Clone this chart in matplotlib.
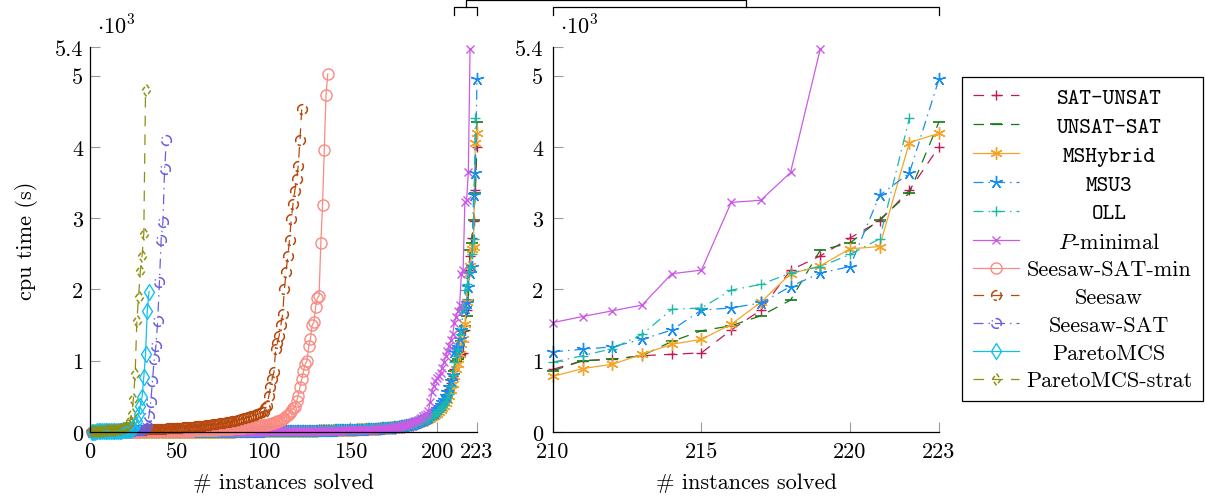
import numpy as np
import matplotlib
matplotlib.use('Agg')
import matplotlib.pyplot as plt
from matplotlib.path import Path
from matplotlib.transforms import Affine2D
from matplotlib.lines import Line2D

plt.rcParams['font.family'] = ['cmr10', 'DejaVu Serif']
plt.rcParams['mathtext.fontset'] = 'cm'
plt.rcParams['axes.formatter.use_mathtext'] = True
plt.rcParams['font.size'] = 16

# ---------------- data (cpu time in seconds, sorted, one value per solved instance)
sat_unsat = [0,0,0,0,0,0,0,0,0,0, 0,0,0,0,0,1,1,1,1,1, 1,1,1,1,1,1,1,1,1,1,
             1,1,1,1,1,1,1,1,2,2, 2,2,2,2,2,2,2,2,2,2, 2,2,3,3,3,3,3,3,3,3,
             3,3,3,3,3,3,4,4,4,4, 4,4,4,4,4,4,5,5,5,5, 5,5,5,5,5,6,6,6,6,6,
             6,6,6,6,7,7,7,7,7,7, 8,8,8,8,8,8,9,9,9,9, 9,10,10,10,10,11,11,11,11,12,
             12,12,12,13,13,13,14,14,14,15, 15,15,16,16,16,17,17,17,18,18, 19,19,20,20,21,21,22,22,23,23,
             24,24,25,25,26,26,27,27,28,29, 29,30,31,32,33,34,35,36,37,38, 39,40,42,44,46,48,50,53,56,59,
             62,66,70,75,80,86,93,100,110,120, 130,142,155,168,180,190,200,215,235,260,
             290,325,365,410,460,530,610,690,780,
             880,1000,1020,1070,1090,1110,1430,1710,2270,2470,2720,2960,3390,4000]

unsat_sat = [0,0,0,0,0,0,0,0,0,0, 0,0,0,0,1,1,1,1,1,1, 1,1,1,1,1,1,1,1,1,1,
             1,1,1,1,1,1,2,2,2,2, 2,2,2,2,2,2,2,2,2,3, 3,3,3,3,3,3,3,3,3,3,
             3,4,4,4,4,4,4,4,4,4, 5,5,5,5,5,5,5,5,6,6, 6,6,6,6,7,7,7,7,7,7,
             8,8,8,8,8,9,9,9,9,9, 10,10,10,10,11,11,11,11,12,12, 12,13,13,13,14,14,14,15,15,15,
             16,16,16,17,17,18,18,19,19,20, 20,21,21,22,22,23,23,24,24,25, 26,26,27,28,28,29,30,31,32,33,
             34,35,36,37,38,39,40,41,42,43, 44,45,46,48,50,52,54,56,58,60, 62,64,66,68,70,72,75,78,81,84,
             88,92,96,100,105,110,116,122,128,135, 142,150,160,170,182,195,210,225,245,265,
             290,320,355,395,440,500,570,650,740,
             860,1000,1020,1070,1270,1420,1490,1630,1850,2550,2650,2980,3350,4350]

mshybrid = [0,0,0,0,0,0,0,0,0,0, 0,0,1,1,1,1,1,1,1,1, 1,1,1,1,1,1,1,2,2,2,
            2,2,2,2,2,2,2,2,2,2, 2,3,3,3,3,3,3,3,3,3, 3,3,4,4,4,4,4,4,4,4,
            4,4,5,5,5,5,5,5,5,5, 6,6,6,6,6,6,6,7,7,7, 7,7,7,8,8,8,8,8,8,9,
            9,9,9,9,10,10,10,10,10,11, 11,11,11,12,12,12,13,13,13,13, 14,14,14,15,15,15,16,16,16,17,
            17,17,18,18,18,19,19,20,20,21, 21,22,22,23,23,24,24,25,25,26, 26,27,28,28,29,30,30,31,32,33,
            33,34,35,36,37,38,39,40,41,42, 43,44,45,47,48,50,52,54,56,58, 60,62,65,68,71,74,77,80,84,88,
            92,96,100,105,110,115,121,127,134,141, 148,156,165,175,186,198,211,225,240,258,
            280,305,335,370,410,455,510,590,680,
            780,890,950,1090,1230,1300,1510,1820,2220,2330,2570,2600,4060,4190]

msu3 = [0,0,0,0,0,0,0,0,0,0, 0,0,0,0,0,0,0,1,1,1, 1,1,1,1,1,1,1,1,1,1,
        1,1,1,1,1,1,1,1,1,1, 2,2,2,2,2,2,2,2,2,2, 2,2,2,2,3,3,3,3,3,3,
        3,3,3,3,3,3,3,4,4,4, 4,4,4,4,4,4,4,5,5,5, 5,5,5,5,5,6,6,6,6,6,
        6,6,7,7,7,7,7,7,8,8, 8,8,8,9,9,9,9,10,10,10, 10,11,11,11,11,12,12,12,13,13,
        13,14,14,14,15,15,15,16,16,17, 17,17,18,18,19,19,20,20,21,21, 22,22,23,23,24,25,25,26,27,27,
        28,29,30,31,32,33,34,35,36,37, 38,39,40,42,44,46,48,50,52,54, 56,58,60,63,66,69,72,76,80,84,
        88,93,98,104,110,117,124,132,140,150, 160,172,185,200,215,232,250,270,292,316,
        345,378,415,455,500,560,630,710,800,
        1125,1160,1195,1300,1430,1710,1740,1810,2040,2230,2320,3320,3630,4950]

oll = [0,0,0,0,0,0,0,0,0,0, 0,0,0,0,0,0,1,1,1,1, 1,1,1,1,1,1,1,1,1,1,
       1,1,1,1,1,1,1,2,2,2, 2,2,2,2,2,2,2,2,2,2, 3,3,3,3,3,3,3,3,3,3,
       3,4,4,4,4,4,4,4,4,4, 4,5,5,5,5,5,5,5,5,6, 6,6,6,6,6,6,7,7,7,7,
       7,7,8,8,8,8,8,9,9,9, 9,9,10,10,10,10,11,11,11,11, 12,12,12,13,13,13,13,14,14,14,
       15,15,15,16,16,16,17,17,18,18, 18,19,19,20,20,21,21,22,22,23, 23,24,24,25,26,26,27,28,28,29,
       30,31,32,32,33,34,35,36,37,38, 39,40,41,43,44,46,48,50,52,54, 56,58,61,64,67,70,73,77,81,85,
       90,95,100,106,112,118,125,132,140,148, 157,166,176,187,199,212,226,241,258,276,
       296,320,348,380,420,470,540,640,800,
       980,1070,1170,1370,1720,1740,1990,2070,2230,2320,2490,2710,4400]

p_minimal = [0,0,0,0,0,0,0,0,0,0, 0,0,0,0,0,0,0,0,0,1, 1,1,1,1,1,1,1,1,1,1,
             1,1,1,1,1,1,1,1,1,1, 1,2,2,2,2,2,2,2,2,2, 2,2,2,2,2,2,3,3,3,3,
             3,3,3,3,3,3,3,3,3,4, 4,4,4,4,4,4,4,4,5,5, 5,5,5,5,5,5,6,6,6,6,
             6,6,6,6,7,7,7,7,7,7, 8,8,8,8,8,9,9,9,9,9, 10,10,10,10,11,11,11,11,12,12,
             12,12,13,13,13,14,14,14,15,15, 15,16,16,16,17,17,18,18,18,19, 19,20,20,21,21,22,22,23,23,24,
             24,25,26,26,27,28,29,30,31,32, 33,34,35,36,38,40,42,44,46,48, 50,53,56,60,64,68,72,77,82,88,
             95,102,110,118,127,137,148,160,173,187, 202,218,236,256,300,420,560,650,720,760,
             790,830,900,980,1070,1130,1210,1290,1370,
             1535,1620,1700,1780,2220,2270,3220,3250,3640,5370]

seesaw_sat_min = [1,1,1,2,2,2,2,3,3,3, 3,4,4,4,4,5,5,5,5,6, 6,6,6,7,7,7,7,8,8,8,
                  8,9,9,9,10,10,10,11,11,11, 12,12,12,13,13,14,14,15,15,16, 16,17,17,18,18,19,19,20,21,22,
                  23,24,25,26,27,28,29,30,31,32, 33,34,35,36,37,38,40,42,44,46, 48,50,52,54,56,58,60,62,64,66,
                  68,70,72,75,78,81,84,88,92,96, 100,105,110,116,122,130,140,150,160,172,
                  185,200,220,245,270,300,330,
                  350,430,510,630,740,850,950,1000,1200,1300,
                  1500,1540,1750,1880,1910,2650,3190,3960,4730,5020]

seesaw = [5,6,7,8,9,10,10,11,12,13, 14,15,16,17,18,19,20,21,22,23, 24,25,26,27,28,29,30,31,32,33,
          34,35,36,37,38,39,40,41,42,44, 45,46,48,49,51,52,54,55,57,58, 60,62,63,65,67,69,71,73,75,77,
          79,81,84,86,89,91,94,97,100,103, 106,109,113,116,120,124,128,132,136,141,
          146,151,156,161,167,173,179,185,192,199,
          206,213,221,229,237,246,255,265,275,285,
          330,370,500,630,750,840,1160,1250,1350,1500,
          1650,2000,2250,2470,2700,2990,3200,3380,3550,3730, 4100,4530]

seesaw_sat = [3,4,5,5,6,6,7,7,8,8, 9,9,10,10,11,12,12,13,14,15, 16,17,18,19,20,22,24,26,28,32,
              38,50,
              90,230,420,720,1020,1210,1560,2100,2700,2940,3690,4090]

pareto_mcs = [5,6,7,8,8,9,10,10,11,12, 12,13,14,15,16,17,18,20,22,24,
              27,30,35,42,55,80,150,250,370,490,770,1090,1700,1970]

pareto_mcs_strat = [10,12,14,15,16,18,19,20,22,24, 25,27,29,31,33,36,40,45,52,60,
                    75,100,150,250,460,810,1560,1900,2260,2470,2780,4790]

labels = ['SAT-UNSAT', 'UNSAT-SAT', 'MSHybrid', 'MSU3', 'OLL', '$P$-minimal',
          'Seesaw-SAT-min', 'Seesaw', 'Seesaw-SAT', 'ParetoMCS', 'ParetoMCS-strat']
mono_labels = ['SAT-UNSAT', 'UNSAT-SAT', 'MSHybrid', 'MSU3', 'OLL']

x_ticks_left = [0, 50, 100, 150, 200, 223]
x_ticks_right = [210, 215, 220, 223]
y_ticks = [0, 1, 2, 3, 4, 5, 5.4]
y_ticklabels = ['0', '1', '2', '3', '4', '5', '5.4']
x_max = 223
zoom_lo, zoom_hi = 210, 223
y_max = 5.4


# ---------------- marker shapes (dashed-looking open marks)
def arc_marker(spans):
    verts, codes = [], []
    for a0, a1 in spans:
        t = np.radians(np.linspace(a0, a1, 12))
        verts += list(zip(np.cos(t), np.sin(t)))
        codes += [Path.MOVETO] + [Path.LINETO] * 11
    return Path(np.array(verts), codes)


def broken_diamond(frac=0.62):
    pts = [(0, 1), (0.72, 0), (0, -1), (-0.72, 0)]
    verts, codes = [], []
    for i in range(4):
        p = np.array(pts[i]); q = np.array(pts[(i + 1) % 4])
        verts += [tuple(p), tuple(p + frac * (q - p))]
        codes += [Path.MOVETO, Path.LINETO]
    return Path(np.array(verts), codes)


seesaw_mk = arc_marker([(-60, 40), (80, 200), (235, 275)])
seesaw_sat_mk = arc_marker([(-30, 100), (140, 155), (190, 300)])
strat_mk = broken_diamond()

dashed = (8.5, 6.5)
dashdot = (8, 4, 1.2, 4)

specs = [
    (sat_unsat, '#c2185b', dict(marker='+', ms=7.5, mew=1.0), dashed),
    (unsat_sat, '#137a13', dict(marker='_', ms=8, mew=1.2), dashed),
    (mshybrid, '#f2a52a', dict(marker=(6, 2, 0), ms=9, mew=1.0), None),
    (msu3, '#1a8cf0', dict(marker=(5, 2, 0), ms=9.5, mew=1.0), dashdot),
    (oll, '#1cb8a8', dict(marker='+', ms=6.5, mew=1.0), dashdot),
    (p_minimal, '#cc5ae6', dict(marker='x', ms=6, mew=1.0), None),
    (seesaw_sat_min, '#fa8a82', dict(marker='o', ms=8, mew=1.0, mfc='none'), None),
    (seesaw, '#b5480c', dict(marker=seesaw_mk, ms=7, mew=1.1, mfc='none'), dashed),
    (seesaw_sat, '#6a5ee0', dict(marker=seesaw_sat_mk, ms=7, mew=1.1, mfc='none'), dashdot),
    (pareto_mcs, '#12c0ee', dict(marker='d', ms=8.5, mew=1.0, mfc='none'), None),
    (pareto_mcs_strat, '#8f8f12', dict(marker=strat_mk, ms=8.5, mew=1.1, mfc='none'), dashed),
]

W_PX, H_PX = 1205, 502
fig = plt.figure(figsize=(W_PX / 100, H_PX / 100), dpi=100)
ax1 = fig.add_axes([90 / W_PX, 69 / H_PX, 387 / W_PX, 385 / H_PX])
ax2 = fig.add_axes([553 / W_PX, 69 / H_PX, 386 / W_PX, 385 / H_PX])

handles = []
for vals, col, mk, dash in specs:
    x = np.arange(1, len(vals) + 1)
    y = np.asarray(vals, dtype=float) / 1000.0
    kw = dict(color=col, lw=0.9, clip_on=False, **mk)
    if dash is None:
        kw['linestyle'] = '-'
    else:
        kw['dashes'] = dash
    h, = ax1.plot(x, y, **kw)
    handles.append(h)
    m = x >= zoom_lo
    if m.any():
        ax2.plot(x[m], y[m], **kw)

for ax, xt, xl, ypad in [(ax1, x_ticks_left, (0, x_max), 5),
                         (ax2, x_ticks_right, (zoom_lo, zoom_hi), 7)]:
    ax.set_xlim(*xl)
    ax.set_ylim(0, y_max)
    ax.set_xticks(xt)
    ax.set_xticklabels([str(v) for v in xt])
    ax.set_yticks(y_ticks)
    ax.set_yticklabels(y_ticklabels)
    for s in ['top', 'right']:
        ax.spines[s].set_visible(False)
    for s in ['left', 'bottom']:
        ax.spines[s].set_linewidth(0.9)
    ax.tick_params(direction='in', length=7, width=0.8, color='#9a9a9a', labelsize=16)
    ax.tick_params(axis='x', pad=6.5)
    ax.tick_params(axis='y', pad=ypad)
    ax.set_xlabel('# instances solved')
    ax.xaxis.set_label_coords(0.5, -0.105)
    ax.xaxis.label.set_va('top')
    ax.text(0.018, 1.035, r'$\cdot 10^3$', transform=ax.transAxes, fontsize=16,
            va='baseline', ha='left')
    ax.patch.set_alpha(0)

ax1.set_ylabel('cpu time (s)')
ax1.yaxis.set_label_coords(-0.135, 0.5)

leg = fig.legend(handles, labels, loc='upper left',
                 bbox_to_anchor=(962 / W_PX, 1 - 78 / H_PX), bbox_transform=fig.transFigure,
                 frameon=True, fancybox=False, edgecolor='black', framealpha=1,
                 borderaxespad=0, handlelength=2.1, handletextpad=0.3,
                 labelspacing=0.37, borderpad=0.48, numpoints=1, fontsize=16)
leg.get_frame().set_linewidth(0.9)
texts = leg.get_texts()
for t in texts:
    if t.get_text() in mono_labels:
        t.set_fontfamily('cmtt10')

# centre legend texts within their column
fig.canvas.draw()
r = fig.canvas.get_renderer()
ext = [t.get_window_extent(r) for t in texts]
cx = (min(e.x0 for e in ext) + max(e.x1 for e in ext)) / 2
for t, e in zip(texts, ext):
    dx = cx - (e.x0 + e.x1) / 2
    t.set_transform(t.get_transform() + Affine2D().translate(dx, 0))

# zoom bracket connecting [210,223] of the left plot with the right plot
p1 = ax1.get_position(); p2 = ax2.get_position()
lx0 = p1.x0 + p1.width * zoom_lo / x_max
lx1 = p1.x0 + p1.width * zoom_hi / x_max
rx0, rx1 = p2.x0, p2.x1
y_br = 1 - 8 / H_PX
y_tk = 1 - 16 / H_PX
y_top = 1 - 0.8 / H_PX
for xs, ys in [([lx0, lx0, lx1, lx1], [y_tk, y_br, y_br, y_tk]),
               ([rx0, rx0, rx1, rx1], [y_tk, y_br, y_br, y_tk]),
               ([(lx0 + lx1) / 2, (lx0 + lx1) / 2, (rx0 + rx1) / 2, (rx0 + rx1) / 2],
                [y_br, y_top, y_top, y_br])]:
    fig.add_artist(Line2D(xs, ys, transform=fig.transFigure, color='black', lw=0.9))

fig.savefig('out.png', dpi=100)
